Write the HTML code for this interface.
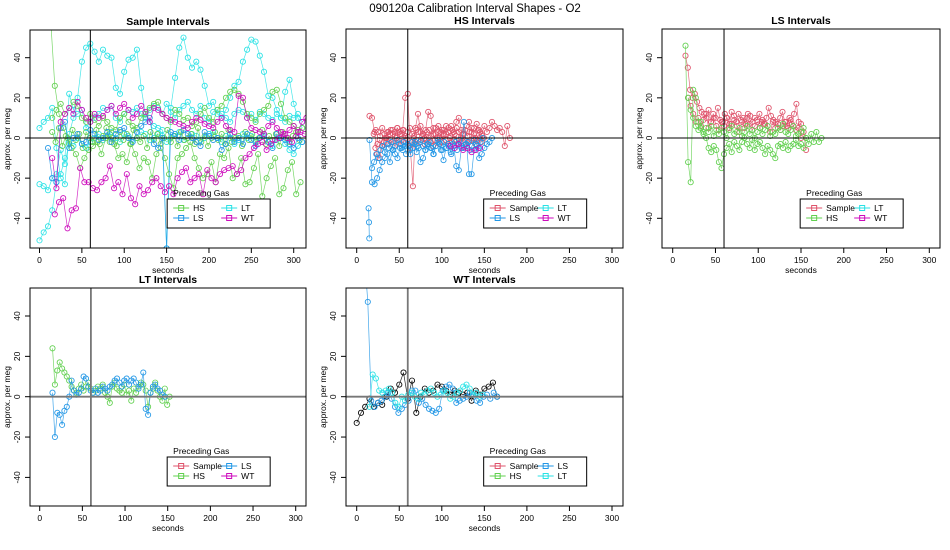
<!DOCTYPE html>
<html><head><meta charset="utf-8"><title>Calibration Interval Shapes</title>
<style>
html,body{margin:0;padding:0;background:#fff;}
svg{display:block;font-family:"Liberation Sans",Arial,sans-serif;}
</style></head>
<body>
<svg id="chart" width="950" height="550" viewBox="0 0 950 550" xmlns="http://www.w3.org/2000/svg">
<rect width="950" height="550" fill="#fff"/>
<text x="475" y="12" text-anchor="middle" font-size="11.5" fill="#000">090120a   Calibration Interval Shapes - O2</text>
</svg>
<script>
// ---------- data ----------
const xTicks = [0,50,100,150,200,250,300];
const yTicks = [-40,-20,0,20,40];
const panelTitles = ["Sample Intervals","HS Intervals","LS Intervals","LT Intervals","WT Intervals"];
const legendLabels = [["HS","LT","LS","WT"],["Sample","LT","LS","WT"],["Sample","LT","HS","WT"],["Sample","LS","HS","WT"],["Sample","LS","HS","LT"]];
const refTime = 60;

// Panel 1: Sample intervals
const p1_lt1 = [-51,-47,-44,-36,-22,-18,-10,22,14,20,38,45,47,43,38,44,41,40,25,22,33,39,40,44,25,12,8,6,5,4,-55,15,30,45,50,40,35,38,34,26,16,18,12,10,14,20,26,28,38,44,49,48,41,33,21,20,14,10,23,29,17,10,5];
const p1_lt2 = [5,8,10,15,-5,-20,-23,2,10,12,14,5,8,10,12,15,14,16,10,8,12,14,13,15,12,10,14,16,15,12,17,13,10,14,16,18,14,12,16,10,8,13,14,12,10,8,12,14,13,10,12,9,13,12,10,9,12,10,8,11,10,12,8];
const p1_lt3 = [-23,-24,-26,-20,-18,-6,-13,-2,-4,0,-3,-5,-2,0,2,-1,1,3,0,-2,2,1,-1,0,3,2,-1,0,2,1,-2,0,1,3,-1,0,2,1,-1,0,2,3,0,-2,1,0,-3,-1,2,0,1,-1,0,2,-2,-4,-1,0,-3,-6,-8,-4,-2];
const p1_hs1 = [60,26,12,5,0,-5,-8,-15,-10,-6,-4,-2,-8,0,2,-3,-10,-8,-12,-3,-8,-15,-10,-12,-20,-8,-5,-10,-18,-25,-10,-8,-5,-2,-10,-15,-20,-18,-12,-22,-8,-10,-5,-20,-18,-10,-23,-22,-15,-8,-29,-20,-14,-10,-28,-25,-16,-12,-28,-22];
const p1_hs2 = [10,14,17,12,15,18,16,10,8,12,9,6,10,8,5,4,10,12,8,6,5,10,12,15,17,18,12,10,8,14,12,9,10,6,8,12,15,10,8,14,16,20,23,24,22,18,12,10,8,12,14,16,23,24,17,10,8,6,4,5];
const p1_hs3 = [3,-2,5,-4,1,-3,4,-1,2,-5,3,0,-2,4,-3,1,5,-2,0,-4,3,-1,2,-3,4,0,-2,1,-5,3,-1,2,-3,0,4,-2,1,-4,3,-1,0,2,-3,5,-2,1,-4,0,3,-1,2,-3,4,-2,0,1,-4,3,-1,2,-2,0,4,-3,1,-1,2,-4,3,0,-2,1,3,-1];
const p1_ls1 = [-5,-20,-22,5,8,-5,0,2,-3,-2,4,2,-1,0,3,-2,2,4,5,0,-2,3,6,8,10,-3,-5,0,-55,3,2,-1,4,2,0,-2,-4,3,1,-1,0,-6,-3,2,-2,0,-3,2,-1,-4,0,1,-2,-5,2,0,-1,-3,-5,0,-2];
const p1_wt1 = [-10,-25,8,12,15,12,18,14,10,8,12,10,11,14,16,12,15,17,14,10,12,16,13,8,15,14,12,10,9,8,7,6,5,8,10,9,7,6,5,8,10,6,4,3,21,20,10,5,4,3,2,6,8,5,3,2,4,6,3,8,10];
const p1_wt2 = [-38,-32,-30,-45,-36,-35,-15,-22,-22,-25,-26,-22,-20,-14,-25,-22,-28,-18,-30,-33,-24,-28,-26,-22,-20,-24,-27,-24,-28,-20,-17,-15,-22,-20,-18,-28,-16,-20,-22,-18,-16,-15,-14,-18,-16,-10,-8,-5,-3,-2,-6,-3,-1,0,2,0,-2,1,3,2];

// Panel 2: HS intervals
const p2_s1 = [11,10,3,-8,-10,-4,0,3,2,4,3,5,2,4,20,22,-5,-24,5,12,3,2,4,13,11,2,5,6,3,4,2,5,6,3,8,10,4,2,6,8,3,5,7,4,2,6,3,5,8,6,4,5,3,-4,6,0];
const p2_s2 = [2,4,3,1,5,2,0,3,4,2,1,5,3,2,4,0,3,5,2,1,4,3,6,2,0,3,4,1,5,2,3,0,4,2,6,3,1,4,2,5,3,0,2,4,1,3,5,2,0,4,3,1];
const p2_s3 = [-5,-3,-1,-4,-2,0,-3,-1,-2,-4,0,-1,-3,-2,1,-1,-4,-2,0,-3,-1,-2,1,-3,-1,0,-2,-4,-1,0,-3,-2,1,-1,-3,0,-2,-1,1,-3,-2,0,-1,-4,-2,-1,0,-3,-1,0,-2,0];
const p2_ls1 = [-1,-22,-23,-20,-16,-12,-10,-8,-12,-6,-8,-10,-5,-6,-4,-3,-8,-5,-2,-4,-12,-10,-6,-3,-5,-8,-4,-2,-6,-11,-5,-3,-8,-4,-14,-16,-5,8,-3,-18,-18,-6,-4,-10,-8,-5,-3,-2,0];
const p2_ls2 = [-35,-42,-50];
const p2_ls3 = [-15,-12,-8,-10,-6,-4,-7,-3,-5,-2,-6,-4,-1,-3,-5,-2,-8,-4,-6,-2,-3,-7,-5,-1,-4,-6,-3,-2,-5,-8,-4,-1,-3,-6,-2,-5,-4,-7,-3,-2,-6,-1,-4,-5,-3,-2,-6,-4,-1,-3,-5,-2,0];
const p2_wt1 = [-4,-5,-3,-6,-5,-7,-6,-5];

// Panel 3: LS intervals
const p3_s1 = [41,35,24,20,22,18,15,13,12,10,14,8,12,10,15,9,8,12,10,7,13,11,8,12,9,10,7,12,11,8,10,9,12,8,7,10,15,11,9,8,7,10,13,8,6,10,7,12,17,8,0];
const p3_s2 = [20,16,12,8,10,6,9,12,5,8,10,6,4,8,6,10,5,7,9,6,3,8,5,10,7,4,6,8,5,9,7,6,3,8,5,7,4,6,8,5,9,6,4,5,7,3,-6];
const p3_hs1 = [46,-12,-22,24,20,8,5,3,0,-5,-7,-4,-6,-12,-15,-8,-5,-3,-7,-2,-4,-6,-2,0,-3,-5,-1,-6,-3,-2,-5,-8,-4,-6,-8,-10,-4,-3,-5,-2,-6,-4,-3,-1,-4,-3,-5,0,-3,2,-2,3,-2,0];
const p3_hs2 = [20,14,10,6,4,8,2,5,3,6,1,4,2,5,3,0,4,6,2,3,5,1,3,6,2,4,0,3,5,2,4,6,1,3,2,5,4,7,3,2,4,6,1,2,3,5,0];

// Panel 4: LT intervals
const p4_hs1 = [24,6,13,17,14,12,10,8,5,3,2,4,6,3,5,7,4,2,3,5,4,6,2,0,-3,5,7,4,3,2,6,1,3,-2,4,2,5,7,6,3,-5,2,4,7,3,0,-2,4,-4,0];
const p4_ls1 = [2,-20,-8,-9,-14,-7,-5,0,8,3,1,2,4,10,9,5,3,2,4,2,3,5,4,3,5,6,8,9,7,5,8,9,6,8,9,7,4,6,12,-6,-9,2,5,6,4,3,1,0];

// Panel 5: WT intervals
const p5_k1 = [-13,-8,-5,-1,-5,-3,-4,0,4,2,6,12,-1,8,-8,0,4,2,3,6,5,3,1,3,2,1,2,-2,3,1,4,5,7,0];
const p5_ls1 = [70,47,-2,-5,-3,-2,0,2,-1,-5,-8,-6,-4,-2,3,3,-3,-1,-4,-6,-7,-8,-6,3,5,6,4,-3,-2,-1,0,2,1,-2,-3,0,1,-1,2,0];
const p5_lt1 = [-5,11,9,3,2,3,4,2,-3,-5,0,-2,1,2,0,-1,2,1,3,4,2,0,1,3,2,-1,0,2,3,5,6,4,1,2,0,1];

// series start times and sampling steps (seconds)
const seriesStart = [0,0,0,13,15,15,10,15,18, 15,20,22,15,14,18,110, 15,18,15,18, 15,15, 0,9,15];
const seriesStep  = [5,5,5,5,5,4,5,5,5, 3,2.5,2.5,3,0.4,2.5,5, 2.7,3,3,3, 2.8,2.8, 5,4,3.8];

const COL = {Sample:"#DF536B",HS:"#61D04F",LS:"#2297E6",LT:"#28E2E5",WT:"#CD0BBC",K:"#000000"};

// ---------- layout ----------
const panels = [
 {l:30,t:30,r:306,b:248,x0:39.5,x300:293.7,y0:138,y40:57.7,row:0},
 {l:346,t:29,r:623,b:248,x0:356.7,x300:612,y0:138,y40:57.7,row:0},
 {l:662,t:29,r:940,b:248,x0:672.7,x300:929.3,y0:138,y40:57.7,row:0},
 {l:30,t:288,r:306,b:506,x0:39.7,x300:295.7,y0:396.7,y40:316,row:1},
 {l:346,t:288,r:623,b:506,x0:356.7,x300:612,y0:396.7,y40:316,row:1}
];
const seriesList = [
 [0,p1_lt1,"LT"],[0,p1_lt2,"LT"],[0,p1_lt3,"LT"],[0,p1_hs1,"HS"],[0,p1_hs2,"HS"],[0,p1_hs3,"HS"],[0,p1_ls1,"LS"],[0,p1_wt1,"WT"],[0,p1_wt2,"WT"],
 [1,p2_s1,"Sample"],[1,p2_s2,"Sample"],[1,p2_s3,"Sample"],[1,p2_ls1,"LS"],[1,p2_ls2,"LS"],[1,p2_ls3,"LS"],[1,p2_wt1,"WT"],
 [2,p3_s1,"Sample"],[2,p3_s2,"Sample"],[2,p3_hs1,"HS"],[2,p3_hs2,"HS"],
 [3,p4_hs1,"HS"],[3,p4_ls1,"LS"],
 [4,p5_k1,"K"],[4,p5_ls1,"LS"],[4,p5_lt1,"LT"]
];

const NS="http://www.w3.org/2000/svg";
const svg=document.getElementById('chart');
function mk(tag,attrs,parent){const e=document.createElementNS(NS,tag);for(const k in attrs)e.setAttribute(k,attrs[k]);(parent||svg).appendChild(e);return e;}
function xs(p,v){return p.x0+(p.x300-p.x0)*v/300;}
function ys(p,v){return p.y0-(p.y0-p.y40)*v/40;}

const defs=mk('defs',{});
panels.forEach((p,i)=>{
  const cp=mk('clipPath',{id:'clip'+i},defs);
  mk('rect',{x:p.l,y:p.t,width:p.r-p.l,height:p.b-p.t},cp);
});

panels.forEach((p,i)=>{
  const g=mk('g',{});
  
  
  const tt=mk('text',{x:(p.l+p.r)/2,y:p.t-5,'text-anchor':'middle','font-size':'10.5','font-weight':'bold'},g);
  tt.textContent=panelTitles[i];
  
  
  const dg=mk('g',{'clip-path':'url(#clip'+i+')'},g);
  
  
  const axisCol = p.row===1?"#777":"#000";
  const axisW = p.row===1?1.8:1;
  seriesList.forEach((s,si)=>{
    if(s[0]!==i)return;
    const vals=s[1], c=COL[s[2]], t0=seriesStart[si], dt=seriesStep[si];
    const sg=mk('g',{},dg);
    
    
    const pts=vals.map((v,k)=>[xs(p,t0+k*dt),ys(p,v)]);
    const pl=mk('polyline',{points:pts.map(q=>q[0].toFixed(1)+','+q[1].toFixed(1)).join(' '),fill:'none',stroke:c,'stroke-width':0.7,'stroke-opacity':0.85},sg);
    
    
    pts.forEach(q=>{
      const ci=mk('circle',{cx:q[0].toFixed(1),cy:q[1].toFixed(1),r:2.6,fill:'none',stroke:c,'stroke-width':0.85},sg);
      
      
    });
  });
  const hl=mk('line',{x1:p.l,x2:p.r,y1:ys(p,0),y2:ys(p,0),stroke:axisCol,'stroke-width':axisW},g);
  
  
  const vl=mk('line',{x1:xs(p,refTime),x2:xs(p,refTime),y1:p.t,y2:p.b,stroke:axisCol,'stroke-width':axisW},g);
  
  
  const bx=mk('rect',{x:p.l,y:p.t,width:p.r-p.l,height:p.b-p.t,fill:'none',stroke:'#000','stroke-width':1},g);
  
  
  xTicks.forEach(v=>{
    const X=xs(p,v);
    const tk=mk('line',{x1:X,x2:X,y1:p.b,y2:p.b+5,stroke:'#000','stroke-width':1},g);
    
    
    const tl=mk('text',{x:X,y:p.b+15,'text-anchor':'middle','font-size':'8.5'},g);
    tl.textContent=v;
    
    
  });
  const xl=mk('text',{x:(p.l+p.r)/2,y:p.b+25,'text-anchor':'middle','font-size':'8.5'},g);
  xl.textContent='seconds';
  
  
  yTicks.forEach(v=>{
    const Y=ys(p,v);
    const tk=mk('line',{x1:p.l-5,x2:p.l,y1:Y,y2:Y,stroke:'#000','stroke-width':1},g);
    
    
    const tl=mk('text',{x:p.l-10,y:Y,'text-anchor':'middle','font-size':'8.5',transform:'rotate(-90 '+(p.l-10)+' '+Y+')'},g);
    tl.textContent=v;
    
    
  });
  const ym=(p.t+p.b)/2, yx=p.l-20;
  const yl=mk('text',{x:yx,y:ym,'text-anchor':'middle','font-size':'8.5',transform:'rotate(-90 '+yx+' '+ym+')'},g);
  yl.textContent='approx. per meg';
  
  
  const lx=p.l+(p.r-p.l)*0.497, ly=p.b-49;
  const lg=mk('g',{},g);
  
  
  const lt=mk('text',{x:lx+6,y:ly-3,'font-size':'8.5'},lg);
  lt.textContent='Preceding Gas';
  
  
  mk('rect',{x:lx,y:ly,width:103,height:29,fill:'#fff',stroke:'#000','stroke-width':1},lg);
  legendLabels[i].forEach((lab,k)=>{
    const col=k%2, row=(k<2)?0:1;
    const cx=lx+6+col*48, cy=ly+9+row*10;
    const e=mk('g',{},lg);
    
    
    mk('line',{x1:cx,x2:cx+16,y1:cy,y2:cy,stroke:COL[lab],'stroke-width':1},e);
    mk('rect',{x:cx+5.5,y:cy-2.5,width:5,height:5,fill:'none',stroke:COL[lab],'stroke-width':1},e);
    const et=mk('text',{x:cx+20,y:cy+3,'font-size':'8.5'},e);
    et.textContent=lab;
  });
});
</script>
</body></html>
